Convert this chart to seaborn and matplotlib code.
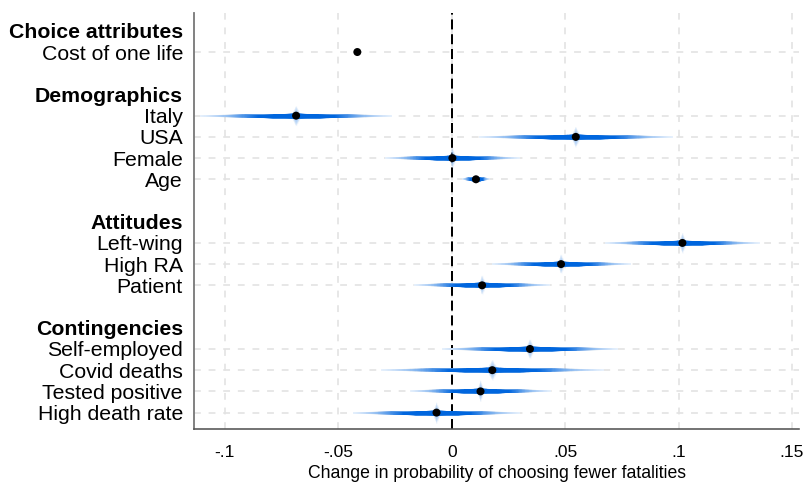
import math
import numpy as np
import pandas as pd
import matplotlib
matplotlib.use("Agg")
import matplotlib.pyplot as plt
from matplotlib.collections import LineCollection
import seaborn as sns

# ---------------- data ----------------
groups = ["Choice attributes", "Demographics", "Attitudes", "Contingencies"]
group_vars = [
    ["Cost of one life"],
    ["Italy", "USA", "Female", "Age"],
    ["Left-wing", "High RA", "Patient"],
    ["Self-employed", "Covid deaths", "Tested positive", "High death rate"],
]
variables = ["Cost of one life", "Italy", "USA", "Female", "Age",
             "Left-wing", "High RA", "Patient",
             "Self-employed", "Covid deaths", "Tested positive", "High death rate"]
coef = [-0.0416, -0.0686, 0.0547, 0.0003, 0.0107,
        0.1017, 0.0482, 0.0134,
        0.0345, 0.0179, 0.0127, -0.0067]
ci99_low = [-0.0422, -0.1110, 0.0120, -0.0294, 0.0044,
            0.0676, 0.0176, -0.0166,
            -0.0046, -0.0309, -0.0184, -0.0440]
ci99_high = [-0.0410, -0.0265, 0.0974, 0.0298, 0.0169,
             0.1356, 0.0789, 0.0433,
             0.0733, 0.0672, 0.0439, 0.0300]
xticks = [-0.1, -0.05, 0, 0.05, 0.1, 0.15]
xticklabels = ["-.1", "-.05", "0", ".05", ".1", ".15"]
xlabel = "Change in probability of choosing fewer fatalities"

# ---------------- layout of rows ----------------
header_pos, var_pos = [], []
pos = 0
for gi, vs in enumerate(group_vars):
    header_pos.append(pos)
    pos += 1
    for v in vs:
        var_pos.append(pos)
        pos += 1
    pos += 1  # blank row between groups
df = pd.DataFrame({"variable": variables, "coef": coef, "lo": ci99_low,
                   "hi": ci99_high, "pos": var_pos})

# ---------------- style ----------------
sns.set_style("white")
plt.rcParams["font.family"] = ["Liberation Sans", "DejaVu Sans"]
plt.rcParams["text.color"] = "black"
plt.rcParams["axes.labelcolor"] = "black"
plt.rcParams["xtick.labelcolor"] = "black"
plt.rcParams["ytick.labelcolor"] = "black"

DPI = 100
fig = plt.figure(figsize=(8.06, 4.82), dpi=DPI)
ax = fig.add_axes([194 / 806, 1 - 428.5 / 482, (799 - 194) / 806, (428.5 - 13) / 482])
px = 72.0 / DPI  # points per pixel

ax.set_xlim(-0.1136, 0.1531)
ax.set_ylim(18.75, -0.84)

# grid
grid_kw = dict(color="#e3e3e3", linewidth=1.7 * px, linestyle=(0, (4.0, 4.6)), zorder=0.5)
for xt in xticks:
    ax.axvline(xt, **grid_kw)
for yp in var_pos:
    ax.axhline(yp, **grid_kw)

# zero line
ax.axvline(0, color="black", linewidth=2.0 * px, linestyle=(0, (5, 2.4)), zorder=1)

# smoothed CI bands
dark = np.array([0.0, 0.40, 0.87])
white = np.array([1.0, 1.0, 1.0])
band_f = np.linspace(1.0, 0.02, 90)
spike_f = np.linspace(0.05, 0.001, 25)
for _, r in df.iterrows():
    half = (r.hi - r.lo) / 2.0
    c = r.coef
    # spike (light, underneath)
    segs, lws = [], []
    for f in spike_f:
        segs.append([(c - f * half, r.pos), (c + f * half, r.pos)])
        lws.append((20 * (1 - f / 0.05) + 2) * px)
    ax.add_collection(LineCollection(segs, linewidths=lws, colors=[(0.55, 0.74, 0.97, 0.07)],
                                     capstyle="butt", zorder=2))
    # band
    segs, lws, cols = [], [], []
    for f in band_f:
        if f <= 0.4:
            inten = 1.0
        else:
            inten = 0.1 + 0.9 * ((1 - f) / 0.6) ** 1.3
        col = white * (1 - inten) + dark * inten
        segs.append([(c - f * half, r.pos), (c + f * half, r.pos)])
        lws.append((1.9 + 2.8 * (1 - f) ** 2) * px)
        cols.append(col)
    ax.add_collection(LineCollection(segs, linewidths=lws, colors=cols,
                                     capstyle="butt", zorder=3))

# point estimates
sns.scatterplot(data=df, x="coef", y="pos", color="black", s=(8.0 * px) ** 2,
                edgecolor="none", zorder=4, ax=ax, legend=False)

# axes / ticks
ax.set_xticks(xticks)
ax.set_xticklabels(xticklabels)
ax.set_yticks(var_pos)
ax.set_yticklabels(variables)
ax.set_yticks(header_pos, minor=True)
ax.set_yticklabels(groups, minor=True, fontweight="bold")
ax.tick_params(axis="y", which="both", length=0, pad=11 * px, labelsize=15.3)
ax.tick_params(axis="x", which="major", length=7.5 * px, width=1.4 * px, color="#555555",
               pad=9 * px, labelsize=12.5, direction="out")
ax.tick_params(axis="x", which="minor", length=0)
ax.set_xlabel(xlabel, fontsize=12.7, labelpad=3.5)
ax.set_ylabel("")

for s in ["top", "right"]:
    ax.spines[s].set_visible(False)
ax.spines["left"].set_color("#777777")
ax.spines["left"].set_linewidth(1.8 * px)
ax.spines["bottom"].set_color("#555555")
ax.spines["bottom"].set_linewidth(1.6 * px)

fig.savefig("out.png", dpi=DPI)
